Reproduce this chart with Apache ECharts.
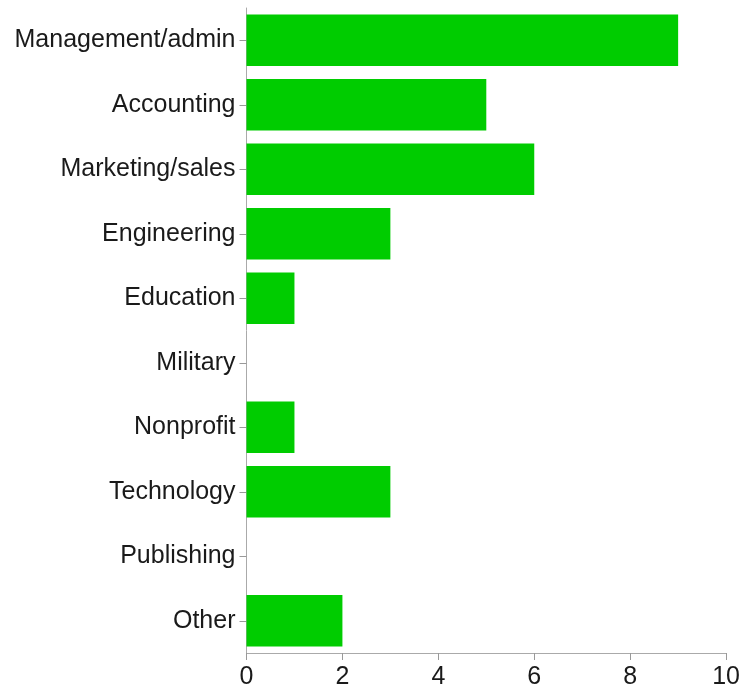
<!DOCTYPE html>
<html>
<head>
<meta charset="utf-8">
<script src="https://cdn.jsdelivr.net/npm/echarts@6/dist/echarts.min.js"></script>
<style>
html,body{margin:0;padding:0;background:#fff;}
#chart{width:743px;height:691px;}
</style>
</head>
<body>
<div id="chart"></div>
<script>
const categories = ["Management/admin","Accounting","Marketing/sales","Engineering","Education","Military","Nonprofit","Technology","Publishing","Other"];
const values = [9,5,6,3,1,0,1,3,0,2];
const xTicks = [0,2,4,6,8,10];

const chart = echarts.init(document.getElementById('chart'), null, {renderer:'canvas'});
chart.setOption({
  animation:false,
  backgroundColor:'#ffffff',
  grid:{left:246.5, right:15.5, top:8, bottom:38, containLabel:false},
  xAxis:{
    type:'value', min:xTicks[0], max:xTicks[xTicks.length-1], interval:2,
    axisLine:{show:true, lineStyle:{color:'#aaaaaa', width:1}},
    axisTick:{show:true, length:7, lineStyle:{color:'#999999'}},
    splitLine:{show:false},
    axisLabel:{color:'#1a1a1a', fontFamily:'Liberation Sans, Arial, sans-serif', fontSize:25, margin:12}
  },
  yAxis:{
    type:'category', data:categories, inverse:true,
    axisLine:{show:true, lineStyle:{color:'#aaaaaa', width:1}},
    axisTick:{show:true, alignWithLabel:true, length:7, lineStyle:{color:'#999999'}},
    axisLabel:{color:'#1a1a1a', fontFamily:'Liberation Sans, Arial, sans-serif', fontSize:25, margin:11, padding:[4,0,0,0]}
  },
  series:[{
    type:'bar', data:values, barWidth:'80%',
    itemStyle:{color:'#00cc00'}
  }]
});
</script>
</body>
</html>
